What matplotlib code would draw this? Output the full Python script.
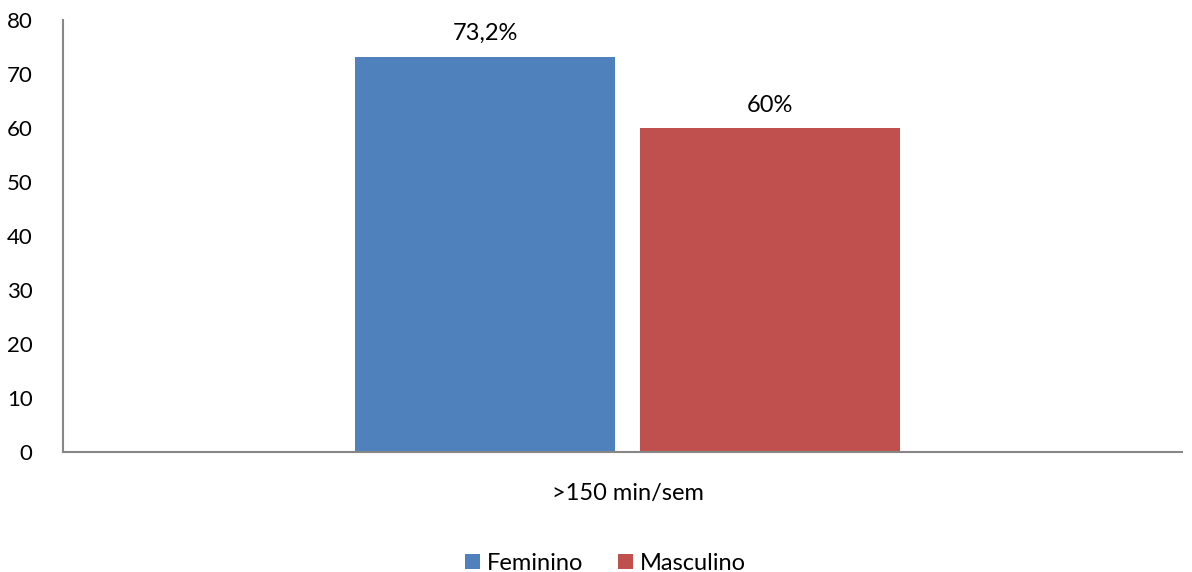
import matplotlib.pyplot as plt

plt.rcParams['font.family'] = ['Lato', 'DejaVu Sans']

categoria = ['>150 min/sem']
series = ['Feminino', 'Masculino']
valores = [73.2, 60]
rotulos = ['73,2%', '60%']
cores = ['#4F81BD', '#C0504D']

fig = plt.figure(figsize=(11.92, 5.72), dpi=100)
ax = fig.add_axes([0.0529, 0.2098, 0.9387, 0.7552])

largura = 0.2324
desloc = [-0.1225, 0.1315]
for i in range(len(series)):
    b = ax.bar(desloc[i], valores[i], width=largura, color=cores[i], label=series[i])
    ax.bar_label(b, labels=[rotulos[i]], padding=9, fontsize=17)

ax.set_xlim(-0.5, 0.5)
ax.set_ylim(0, 80)
ax.set_yticks(range(0, 81, 10))
ax.set_xticks([0.0045])
ax.set_xticklabels(categoria)
ax.tick_params(axis='both', length=0, labelsize=16)
ax.tick_params(axis='x', labelsize=17, pad=22)
ax.tick_params(axis='y', pad=22)
for lado in ['top', 'right']:
    ax.spines[lado].set_visible(False)
for lado in ['left', 'bottom']:
    ax.spines[lado].set_color('#878787')
    ax.spines[lado].set_linewidth(1.5)

fig.legend(loc='lower center', bbox_to_anchor=(0.508, -0.04), ncol=2, frameon=False,
           fontsize=17, handlelength=0.6, handleheight=0.6, handletextpad=0.3,
           columnspacing=1.5)

fig.savefig('out.png', dpi=100)
